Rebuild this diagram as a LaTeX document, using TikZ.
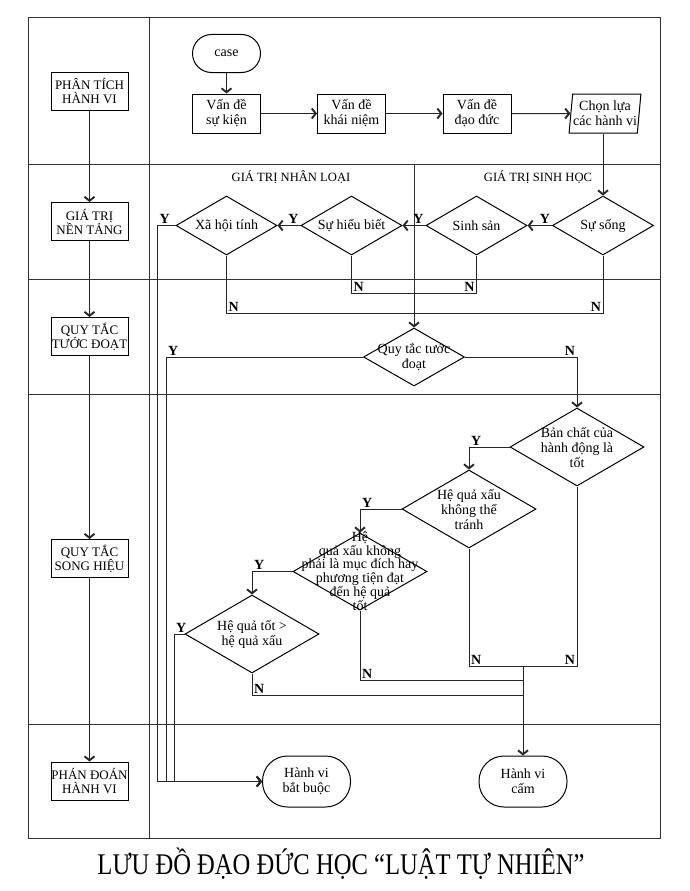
\documentclass[tikz,border=0pt]{standalone}
\usepackage{fontspec}
\setmainfont{Liberation Serif}
\usetikzlibrary{shapes.geometric,arrows.meta,positioning}

\begin{document}
\begin{tikzpicture}
[
	x=1pt,
	y=-1pt,
	every node/.style={font=\fontsize{14}{15}\selectfont, align=center},
	lane/.style={draw=black!80, line width=1pt},
	flow/.style={draw=black!85, line width=1pt},
	arr/.style={flow,-{Straight Barb[length=4pt,width=10pt,line width=1.9pt]}},
	procbox/.style={rectangle,draw,line width=1pt,minimum width=68pt,minimum height=39pt,inner sep=0pt},
	lanebox/.style={procbox,minimum width=77pt,minimum height=38pt,font=\fontsize{13}{14}\selectfont},
	term/.style={rectangle,draw,line width=1pt,rounded corners=19pt,minimum width=68pt,minimum height=38pt,inner sep=0pt},
	endterm/.style={term,rounded corners=25pt,minimum width=88pt,minimum height=51pt},
	iobox/.style={trapezium,trapezium left angle=82,trapezium right angle=98,trapezium stretches=true,draw,line width=1pt,minimum width=72pt,minimum height=39pt,inner sep=0pt},
	decision/.style={diamond,draw,line width=1pt,inner sep=0pt,minimum width=101pt,minimum height=59pt},
	bigdecision/.style={decision,minimum width=134pt,minimum height=78pt},
	yn/.style={font=\fontsize{14}{15}\selectfont\bfseries,inner sep=1.5pt},
	lanetitle/.style={font=\fontsize{12.6}{14}\selectfont}
]

	\useasboundingbox (0,0) rectangle (689,891);

	% lanes
	\draw[lane] (28,18) rectangle (660,838);
	\draw[lane] (149,18) -- (149,838);
	\foreach \y in {164,279,394,724}
		\draw[lane] (28,\y) -- (660,\y);
	\draw[lane] (414,164) -- (414,293);

	% left column
	\node[lanebox] (lphantich) at (89.5,91) {PHÂN TÍCH\\HÀNH VI};
	\node[lanebox] (lgiatri) at (89.5,221.5) {GIÁ TRỊ\\NỀN TẢNG};
	\node[lanebox] (ltuocdoat) at (89.5,336.5) {QUY TẮC\\TƯỚC ĐOẠT};
	\node[lanebox] (lsonghieu) at (89.5,558.5) {QUY TẮC\\SONG HIỆU};
	\node[lanebox] (lphandoan) at (89.5,781) {PHÁN ĐOÁN\\HÀNH VI};

	\draw[arr] (lphantich) -- (lgiatri);
	\draw[arr] (lgiatri) -- (ltuocdoat);
	\draw[arr] (ltuocdoat) -- (lsonghieu);
	\draw[arr] (lsonghieu) -- (lphandoan);

	% analysis
	\node[term] (case) at (226.5,53.5) {case};
	\node[procbox] (sukien) at (226.5,113.5) {Vấn đề\\sự kiện};
	\node[procbox] (khainiem) at (351.5,113.5) {Vấn đề\\khái niệm};
	\node[procbox] (daoduc) at (477,113.5) {Vấn đề\\đạo đức};
	\node[iobox] (chonlua) at (605,113.5) {Chọn lựa\\các hành vi};

	\draw[arr] (case) -- (sukien);
	\draw[arr] (sukien) -- (khainiem);
	\draw[arr] (khainiem) -- (daoduc);
	\draw[arr] (daoduc) -- (chonlua);

	% values
	\node[lanetitle] (nhanloai) at (291,177) {GIÁ TRỊ NHÂN LOẠI};
	\node[lanetitle] (sinhhoc) at (538,177) {GIÁ TRỊ SINH HỌC};

	\node[decision,label={center:Sự sống}] (song) at (603,225.5) {};
	\node[decision,label={center:Sinh sản}] (sinhsan) at (476.5,225.5) {};
	\node[decision,label={center:Sự hiểu biết}] (hieubiet) at (351.5,225.5) {};
	\node[decision,label={center:Xã hội tính}] (xahoi) at (226.5,225.5) {};

	\draw[arr] (song.north |- chonlua.south) -- (song.north);
	\draw[arr] (song.west) node[yn,anchor=south east] (ySong) {Y} -- (sinhsan.east);
	\draw[arr] (sinhsan.west) node[yn,anchor=south east] (ySinh) {Y} -- (hieubiet.east);
	\draw[arr] (hieubiet.west) node[yn,anchor=south east] (yHieu) {Y} -- (xahoi.east);

	\coordinate (jnHieu) at (414,293);
	\coordinate (jnSong) at (414,313);
	\draw[flow] (hieubiet.south) -- (hieubiet.south |- jnHieu) node[yn,anchor=south west] (nHieu) {N} -- (jnHieu);
	\draw[flow] (sinhsan.south) -- (sinhsan.south |- jnHieu) node[yn,anchor=south east] (nSinh) {N} -- (jnHieu);
	\draw[flow] (xahoi.south) -- (xahoi.south |- jnSong) node[yn,anchor=south west] (nXa) {N} -- (jnSong);
	\draw[flow] (song.south) -- (song.south |- jnSong) node[yn,anchor=south east] (nSong) {N} -- (jnSong);

	% rules
	\node[decision,minimum height=58pt,label={center:Quy tắc tước\\đoạt}] (quytac) at (414,357) {};
	\draw[arr] (jnHieu) -- (quytac.north);

	\node[bigdecision,label={center:Bản chất của\\hành động là\\tốt}] (banchat) at (577,447) {};
	\node[bigdecision,label={center:Hệ quả xấu\\không thể\\tránh}] (tranh) at (469,509) {};
	\node[bigdecision,minimum height=77pt,label={[font=\fontsize{14}{11.5}\selectfont]center:Hệ\\quả xấu không\\phải là mục đích hay\\phương tiện đạt\\đến hệ quả\\tốt}] (mucdich) at (360,571.5) {};
	\node[bigdecision,label={center:Hệ quả tốt >\\hệ quả xấu}] (hqtot) at (252,634) {};

	% judgement
	\node[endterm] (batbuoc) at (306.5,781.5) {Hành vi\\bắt buộc};
	\node[endterm] (cam) at (523,781.5) {Hành vi\\cấm};

	\coordinate (bendXa) at (157.5,0);
	\coordinate (bendQt) at (166,0);
	\coordinate (bendHq) at (174,0);

	\draw[arr] (xahoi.west) -- (bendXa |- xahoi.west) node[yn,anchor=south west] (yXa) {Y} -- (bendXa |- batbuoc.west) -- (batbuoc.west);
	\draw[arr] (quytac.west) -- (bendQt |- quytac.west) node[yn,anchor=south west] (yQt) {Y} -- (bendQt |- batbuoc.west) -- (batbuoc.west);
	\draw[arr] (quytac.east) -- (banchat.north |- quytac.east) node[yn,anchor=south east] (nQt) {N} -- (banchat.north);
	\draw[arr] (banchat.west) -- (tranh.north |- banchat.west) node[yn,anchor=south west] (yBan) {Y} -- (tranh.north);
	\draw[arr] (tranh.west) -- (mucdich.north |- tranh.west) node[yn,anchor=south west] (yTr) {Y} -- (mucdich.north);
	\draw[arr] (mucdich.west) -- (hqtot.north |- mucdich.west) node[yn,anchor=south west] (yMuc) {Y} -- (hqtot.north);
	\draw[arr] (hqtot.west) -- (bendHq |- hqtot.west) node[yn,anchor=south west] (yTot) {Y} -- (bendHq |- batbuoc.west) -- (batbuoc.west);

	\coordinate (jnBan) at (523,666);
	\coordinate (jnMuc) at (523,680);
	\coordinate (jnTot) at (523,695);
	\draw[flow] (banchat.south) -- (banchat.south |- jnBan) node[yn,anchor=south east] (nBan) {N} -- (jnBan);
	\draw[flow] (tranh.south) -- (tranh.south |- jnBan) node[yn,anchor=south west] (nTr) {N} -- (jnBan);
	\draw[flow] (mucdich.south) -- (mucdich.south |- jnMuc) node[yn,anchor=south west] (nMuc) {N} -- (jnMuc);
	\draw[flow] (hqtot.south) -- (hqtot.south |- jnTot) node[yn,anchor=south west] (nTot) {N} -- (jnTot);
	\draw[arr] (jnBan) -- (cam.north);

	% title
	\node[anchor=base,font=\fontsize{30}{32}\selectfont] (title) at (341,874) {\scalebox{0.82}[1]{LƯU ĐỒ ĐẠO ĐỨC HỌC “LUẬT TỰ NHIÊN”}};

\end{tikzpicture}
\end{document}
